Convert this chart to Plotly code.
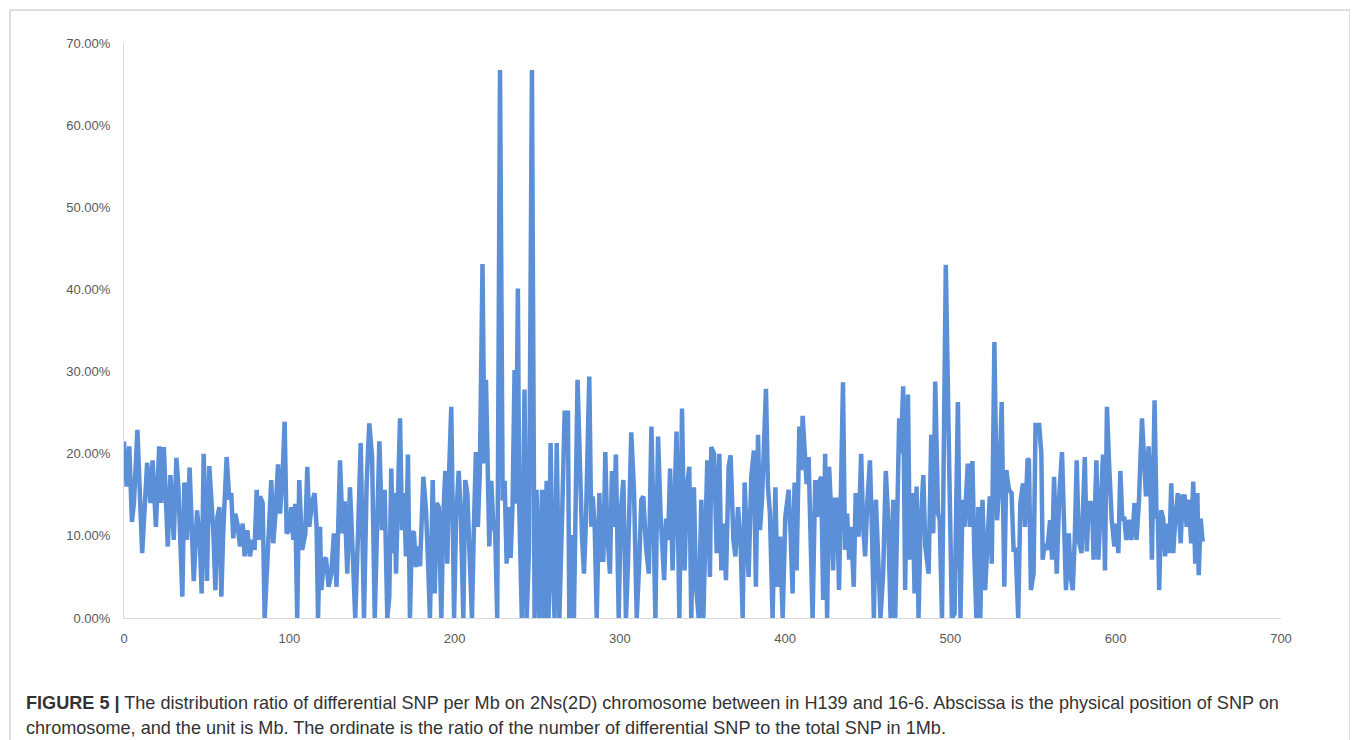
import plotly.graph_objects as go

# Physical position on chromosome (Mb)
position_mb = [
    0, 1.6, 3.2, 4.8, 6, 8.1, 11, 14, 16, 17.3, 19.3, 21.3, 22.5, 24.1, 26.5, 28.1, 30.1, 31.7, 32.9, 35.3,
    36.5, 38.1, 39.7, 42.2, 44.2, 45.8, 47, 48.2, 50.2, 51.6, 54, 55.3, 56.5, 57.7, 58.9, 60, 62.1, 63.7, 64.9, 66.1,
    67.3, 68.6, 70.2, 71.8, 73, 74.6, 76.2, 77.8, 79, 80.3, 81.5, 82.3, 83.9, 85.1, 86.7, 87.9, 89.1, 90.3, 91.5, 93.2,
    94.4, 96, 97.2, 98.4, 100, 101.2, 102.4, 103.6, 104.8, 106, 107.8, 109.7, 110.9, 112.1, 113.7, 115.3, 116.5, 117.4, 118.6, 119.4,
    121, 122.2, 123.8, 125.4, 127, 128.6, 130.7, 132.3, 133.5, 135.1, 136.7, 137.9, 139.9, 141.6, 143.2, 145.2, 146.8, 148.4, 150.1, 151.7,
    153.3, 154.5, 156.1, 157.7, 159.3, 160.5, 161.7, 162.9, 163.5, 164.6, 165.8, 167, 168.2, 169.4, 170.6, 171.8, 173, 174.2, 175.4, 176.6,
    177.8, 179.1, 181.1, 182.7, 183.9, 185.1, 186.8, 188, 189.2, 190.4, 192, 193.2, 194.4, 195.6, 196.8, 198, 199.7, 200.9, 202.5, 203.7,
    205.3, 206.5, 207.7, 208.9, 210.5, 211.7, 212.9, 214.1, 215.3, 216.9, 218.1, 219, 220.2, 221, 222.2, 223.4, 224.6, 225.8, 227.5, 229.1,
    230.3, 231.5, 232.7, 233.9, 235.1, 236.3, 237.1, 238.3, 239.1, 240.7, 242.3, 243.6, 245, 246.8, 248.4, 249.6, 251.3, 252.9, 254.1, 255.7,
    256.9, 258.1, 259.3, 260.5, 261.8, 263.4, 265, 266.6, 268.6, 269.4, 271, 272.2, 274.4, 275.9, 277.1, 278.3, 279.5, 281.5, 282.7, 283.6,
    284.8, 286, 287.6, 288.8, 290, 291.2, 292.4, 294, 295.2, 296.4, 297.6, 299.3, 300.5, 302.1, 303.7, 304.9, 306.9, 308.6, 310.2, 311.8,
    313, 314.2, 315.8, 317.5, 319.1, 320.3, 321.5, 323.1, 324.7, 326.8, 328, 329.2, 330.4, 331.9, 334.3, 336, 337.6, 339.2, 340.4, 342,
    343.2, 344.8, 346.1, 347.7, 349.3, 350.5, 351.7, 352.9, 354.5, 355.3, 357, 358.6, 360.2, 361.4, 362.6, 364.2, 365.8, 367, 368.7, 369.9,
    371.5, 373.1, 374.3, 375.5, 376.7, 377.9, 379.5, 381.1, 382.3, 383.6, 384.8, 386, 388.4, 389.6, 390.8, 392.4, 394.1, 395.3, 396.9, 398.5,
    400.1, 402.1, 403.3, 404.5, 405.7, 406.9, 408.6, 409.6, 410.6, 411.8, 413, 414.2, 415.4, 416.6, 418.2, 419.4, 420.6, 421.8, 423, 424.2,
    425.4, 426.6, 427.8, 429, 430.2, 431.4, 432.6, 433.8, 435, 436.2, 437.5, 438.7, 439.9, 441.5, 442.7, 444.4, 446, 447.2, 448.4, 449.7,
    451.3, 452.5, 453.7, 454.9, 456.1, 457.7, 459.3, 460.9, 462.2, 463.8, 465.4, 466.6, 467.8, 469, 470, 471.4, 472.6, 474.3, 475.5, 477.1,
    478.3, 479.5, 480.7, 481.9, 483.6, 484.8, 486.8, 488.4, 489.6, 490.8, 492.5, 493.5, 494.9, 497.2, 499.3, 500.9, 502.5, 504.5, 506.1, 507.3,
    508.5, 510.5, 511.7, 513.3, 514.5, 515.7, 516.9, 518.1, 519.4, 521, 522.2, 523.8, 525, 526.6, 528.2, 529.5, 531, 532.6, 533.8, 535.4,
    537, 538.2, 539.5, 541, 542.3, 543.9, 545.1, 546.7, 547.5, 548.7, 550.3, 551.5, 553.7, 555, 555.8, 557, 558.6, 560.3, 561.5, 562.7,
    564.3, 565.9, 567.5, 568.7, 569.9, 571.6, 572.8, 574, 575.2, 576.4, 577.6, 579.3, 581.3, 582.5, 583.7, 585, 585.8, 586.6, 588.3, 589.5,
    590.8, 592.3, 593.5, 594.7, 595.9, 597.6, 599.2, 600.4, 601.6, 602.8, 604, 605.2, 606.4, 607.6, 608.6, 609.4, 610.6, 611.4, 612.6, 614,
    615.9, 617.1, 618.3, 619.9, 621.1, 621.9, 623.5, 624.7, 625.5, 626.3, 627.5, 628.7, 629.9, 631.1, 632.4, 633.6, 634.8, 636, 637.6, 639.3,
    640.5, 641.7, 642.9, 644.1, 645.7, 646.9, 648.1, 649.4, 650.2, 651.4, 652.6,
]

# Ratio of differential SNP to total SNP in 1 Mb (percent)
ratio_pct = [
    21.5, 16, 20.9, 11.7, 14, 22.9, 7.9, 18.9, 14, 19.2, 11.1, 20.9, 14, 20.8, 8.7, 17.4, 9.5, 19.5, 16, 2.6,
    16.5, 9.5, 18.3, 4.5, 13.1, 9.5, 3, 20, 4.5, 18.5, 10.7, 3.4, 12.3, 13.5, 2.6, 10.3, 19.6, 14.4, 15.2, 9.7,
    12.7, 11.5, 8.7, 11.5, 7.5, 10.7, 7.5, 9.5, 8.3, 15.6, 9.5, 14.8, 14, 0, 6.7, 12.1, 16.8, 9.1, 12.3, 18.7,
    12.7, 17.6, 23.9, 10.3, 10.7, 13.5, 9.5, 13.9, 0, 16.8, 8.3, 10.3, 18.4, 11.1, 14, 15.2, 11.1, 0, 11.1, 3.4,
    7.1, 7.3, 3.8, 5.4, 10.3, 3.8, 19.2, 10.3, 14.2, 5.4, 15.9, 10.3, 0, 10.3, 21.3, 0, 16.4, 23.7, 19.6, 0,
    10.7, 21.5, 10.7, 15.6, 0, 2.6, 18.2, 7.9, 15.2, 5.4, 15.2, 24.3, 10.7, 15.2, 7.5, 19.9, 0, 10.3, 10.5, 6.2,
    8.7, 6.3, 17.2, 13.1, 7.1, 0, 16.8, 3, 14, 13.5, 0, 12.7, 17.9, 6.6, 18.4, 25.7, 0, 12.1, 17.9, 13.1,
    0, 16.8, 15.2, 7.9, 0, 11.1, 20.2, 11.1, 17.9, 43.1, 18.8, 29, 18, 8.7, 16.7, 11.5, 10.3, 0, 66.7, 14.3,
    16.7, 6.6, 13.5, 7.3, 13.9, 30.2, 13.9, 40.1, 13.9, 0, 27.8, 0, 8, 66.7, 0, 15.6, 0, 15.6, 0, 16.7,
    0, 21.3, 5.9, 0, 21.3, 0, 11.9, 25, 25, 0, 10.1, 0, 29, 15.2, 9.9, 5.4, 12, 29.4, 11.1, 14.8,
    10.9, 0, 15.2, 7.1, 7.1, 20.2, 10.3, 5.4, 17.9, 11.1, 19.9, 0, 12.7, 16.8, 0, 6.6, 22.6, 15.2, 0, 7.1,
    14.4, 14.8, 8.7, 5.4, 23.3, 12.1, 0, 22.1, 12.3, 4.6, 12.1, 9.5, 18.2, 5.8, 22.7, 0, 25.5, 5.8, 15.6, 18.4,
    0, 15.9, 3.8, 0, 14.4, 0, 12.7, 19.2, 5, 20.8, 20, 7.9, 20, 5.8, 11.5, 4.6, 18.4, 19.8, 9.5, 7.5,
    13.5, 8.7, 0, 16.5, 10.3, 5, 17.2, 20.4, 3.8, 22.3, 10.7, 14.4, 27.9, 16, 12.7, 0, 15.9, 3.8, 9.9, 0,
    12.3, 15.6, 10.3, 3, 16.5, 5.8, 23.3, 18, 24.6, 19.6, 16.3, 19.6, 10, 0, 16.8, 12.3, 16.5, 17.2, 2.2, 20,
    0, 18.4, 13.1, 5.8, 14.4, 14.4, 3.4, 15.2, 28.7, 8.3, 12.7, 7.1, 11.1, 3.8, 15.2, 9.9, 20, 11.1, 7.5, 14,
    19.2, 10.7, 0, 14.4, 7.9, 0, 5.4, 17.9, 12.7, 0, 14.4, 0, 12.1, 24.3, 20, 28.2, 3.4, 27.2, 7.1, 15.2,
    3, 16, 0, 11.1, 17.4, 8.7, 5.4, 22.3, 10.3, 28.8, 12.7, 12, 0, 43, 18, 0, 0.5, 26.3, 0, 14.4,
    11.1, 18.8, 11.1, 19.1, 7.5, 0, 13.5, 0, 14.4, 3.4, 8.3, 14.8, 6.6, 33.6, 11.9, 16, 26.3, 3.8, 18, 15.6,
    15.2, 8.3, 8.3, 0, 14, 16.4, 11.1, 19.4, 19.2, 3.4, 5.4, 23.5, 23.5, 20, 7.1, 9, 8.3, 11.9, 7.1, 17.2,
    5.4, 15.2, 20.2, 8.7, 3.4, 10.3, 5, 3.4, 9.5, 19.2, 9.5, 7.9, 19.6, 8.1, 14, 14, 13.5, 7.1, 19.2, 7.1,
    12.7, 19.9, 5.8, 25.7, 19.2, 11.9, 8.7, 11.5, 7.9, 17.9, 11.9, 12.3, 9.5, 11.9, 11.5, 9.5, 11.5, 14, 9.5, 14,
    24.3, 17.9, 14.8, 20.9, 15.2, 7.1, 26.5, 12.1, 12.3, 3.4, 13.1, 12.1, 7.5, 11.5, 7.9, 16.4, 7.9, 11.9, 15.2, 9.1,
    14.8, 14.8, 11.1, 14.4, 9.1, 16.6, 6.6, 15.2, 5.2, 12.1, 9.3,
]

x_ticks = [0, 100, 200, 300, 400, 500, 600, 700]
y_ticks_pct = [0, 10, 20, 30, 40, 50, 60, 70]

caption_line1 = ("<b>FIGURE 5 |</b> The distribution ratio of differential SNP per Mb on 2Ns(2D) chromosome "
                 "between in H139 and 16-6. Abscissa is the physical position of SNP on")
caption_line2 = ("chromosome, and the unit is Mb. The ordinate is the ratio of the number of differential SNP "
                 "to the total SNP in 1Mb.")

# page offset introduced by the default body margin of the html page
OFF = 8
W, H = 1358 - OFF, 740 - OFF
PLOT_L, PLOT_R, PLOT_T, PLOT_B = 124, 1281, 43, 618  # target page pixels
L = PLOT_L - OFF
T = PLOT_T - OFF
R = W - (PLOT_R - OFF)
B = H - (PLOT_B - OFF)
pw, ph = PLOT_R - PLOT_L, PLOT_B - PLOT_T


def px_x(px):
    return (px - PLOT_L) / pw


def px_y(py):
    return (PLOT_B - py) / ph


fig = go.Figure()
fig.add_trace(go.Scatter(
    x=position_mb,
    y=[v / 100 for v in ratio_pct],
    mode="lines",
    line=dict(color="#5b8fd8", width=4.5),
    hoverinfo="x+y",
))

fig.update_layout(
    width=W, height=H,
    margin=dict(l=L, r=R, t=T, b=B),
    paper_bgcolor="white",
    plot_bgcolor="white",
    showlegend=False,
    font=dict(family="Liberation Sans, Arial, sans-serif", color="#595959", size=13),
    xaxis=dict(
        range=[0, 700], tickvals=x_ticks, showgrid=False, zeroline=False,
        showline=True, linecolor="#d9d9d9", linewidth=1, ticks="",
        tickfont=dict(size=13, color="#595959"), ticklabelstandoff=8,
    ),
    yaxis=dict(
        range=[0, 0.7], tickvals=[v / 100 for v in y_ticks_pct], tickformat=".2%",
        showgrid=False, zeroline=False, showline=True, linecolor="#d9d9d9", linewidth=1,
        ticks="", tickfont=dict(size=13, color="#595959"), ticklabelstandoff=10,
    ),
)

# frame around the figure
fig.add_shape(type="rect", xref="paper", yref="paper",
              x0=px_x(10), x1=px_x(1350), y0=px_y(780), y1=px_y(10),
              line=dict(color="#bfbfbf", width=1), fillcolor="rgba(0,0,0,0)", layer="below")

fig.add_annotation(text=caption_line1, xref="paper", yref="paper",
                   x=px_x(24), y=px_y(703), xanchor="left", yanchor="middle", showarrow=False,
                   font=dict(family="Liberation Sans, Arial, sans-serif", size=18.1, color="#333333"))
fig.add_annotation(text=caption_line2, xref="paper", yref="paper",
                   x=px_x(24), y=px_y(728), xanchor="left", yanchor="middle", showarrow=False,
                   font=dict(family="Liberation Sans, Arial, sans-serif", size=18.1, color="#333333"))

fig.write_html("out.html")
